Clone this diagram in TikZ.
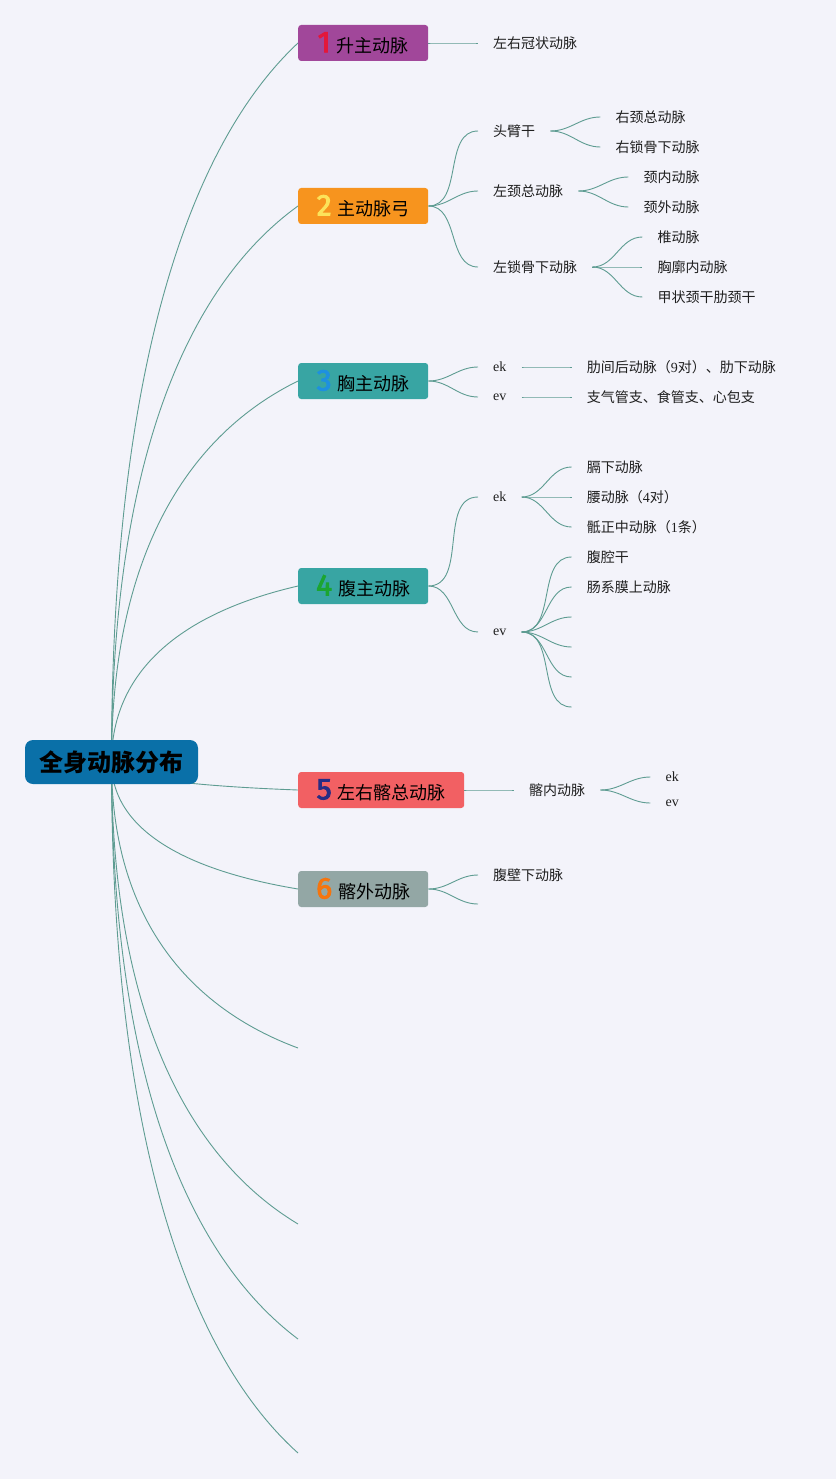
\documentclass[tikz,border=0pt]{standalone}
\usepackage{fontspec}
\setmainfont{Noto Sans CJK SC}
\newfontfamily\latfont{Liberation Serif}
\newfontfamily\numfont{Fira Sans}[FakeBold=3]
\usetikzlibrary{positioning}

\definecolor{bgc}{HTML}{F3F3FA}
\definecolor{linkc}{HTML}{5E9C92}
\definecolor{rootc}{HTML}{0A70A8}
\definecolor{c1}{HTML}{A1479A}
\definecolor{c1n}{HTML}{E3173B}
\definecolor{c2}{HTML}{F7941E}
\definecolor{c2n}{HTML}{FCE35A}
\definecolor{c3}{HTML}{38A5A3}
\definecolor{c3n}{HTML}{1E90E0}
\definecolor{c4n}{HTML}{1BA531}
\definecolor{c5}{HTML}{F26063}
\definecolor{c5n}{HTML}{282C84}
\definecolor{c6}{HTML}{93A7A5}
\definecolor{c6n}{HTML}{F5750E}

\newcommand{\tnum}[2]{{\numfont\fontsize{30}{30}\selectfont\color{#1}#2}\hspace{6pt}}
\newcommand{\lat}[1]{{\latfont #1}}

\pgfdeclarelayer{back}
\pgfsetlayers{back,main}

\tikzset{
  root/.style={rectangle, rounded corners=8pt, fill=rootc, minimum width=173pt,
    minimum height=44pt, inner sep=0pt, font=\bfseries\fontsize{24}{24}\selectfont},
  topic/.style={rectangle, rounded corners=3pt, minimum width=130pt, minimum height=36pt,
    inner sep=0pt, anchor=west, font=\fontsize{18}{18}\selectfont},
  sub/.style={rectangle, inner xsep=15pt, inner ysep=0pt, minimum height=26pt,
    anchor=west, text=black!88, font=\fontsize{14}{14}\selectfont},
  link/.style={draw=linkc, line width=0.9pt}
}

\begin{document}
\begin{tikzpicture}[x=1pt,y=-1pt]
\useasboundingbox (0,0) rectangle (836,1479);

% root and main topics
\node[root] (root) at (111.5,762) {全身动脉分布};
\node[topic, fill=c1] (t1) at (298,43) {\tnum{c1n}{1}升主动脉};
\node[topic, fill=c2] (t2) at (298,206) {\tnum{c2n}{2}主动脉弓};
\node[topic, fill=c3] (t3) at (298,381) {\tnum{c3n}{3}胸主动脉};
\node[topic, fill=c3] (t4) at (298,586) {\tnum{c4n}{4}腹主动脉};
\node[topic, fill=c5, minimum width=166pt] (t5) at (298,790) {\tnum{c5n}{5}左右髂总动脉};
\node[topic, fill=c6] (t6) at (298,889) {\tnum{c6n}{6}髂外动脉};
\coordinate (e1) at (298,1048);
\coordinate (e2) at (298,1224);
\coordinate (e3) at (298,1339);
\coordinate (e4) at (298,1453);

% 1
\node[sub] (gz) at (478,43) {左右冠状动脉};

% 2
\node[sub] (tbg) at (478,131) {头臂干};
\node[sub] (zjz) at (478,191) {左颈总动脉};
\node[sub] (zsg) at (478,267) {左锁骨下动脉};
\node[sub, right=50pt of tbg, yshift=14pt] (yjz) {右颈总动脉};
\node[sub, right=50pt of tbg, yshift=-16pt] (ysg) {右锁骨下动脉};
\node[sub, right=50pt of zjz, yshift=14pt] (jn) {颈内动脉};
\node[sub, right=50pt of zjz, yshift=-16pt] (jw) {颈外动脉};
\node[sub, right=50pt of zsg, yshift=30pt] (zhui) {椎动脉};
\node[sub, right=50pt of zsg] (xkn) {胸廓内动脉};
\node[sub, right=50pt of zsg, yshift=-30pt] (jzg) {甲状颈干肋颈干};

% 3
\node[sub] (ek1) at (478,367) {\lat{ek}};
\node[sub] (ev1) at (478,397) {\lat{ev}};
\node[sub, right=50pt of ek1] (lj) {肋间后动脉（\lat{9}对）、肋下动脉};
\node[sub, right=50pt of ev1] (zq) {支气管支、食管支、心包支};

% 4
\node[sub] (ek2) at (478,497) {\lat{ek}};
\node[sub] (ev2) at (478,632) {\lat{ev}};
\node[sub, right=50pt of ek2, yshift=30pt] (gx) {膈下动脉};
\node[sub, right=50pt of ek2] (yao) {腰动脉（\lat{4}对）};
\node[sub, right=50pt of ek2, yshift=-30pt] (dz) {骶正中动脉（\lat{1}条）};
\node[sub, right=50pt of ev2, yshift=75pt] (fq) {腹腔干};
\node[sub, right=50pt of ev2, yshift=45pt] (cx) {肠系膜上动脉};
\coordinate[right=50pt of ev2, yshift=15pt] (o1);
\coordinate[right=50pt of ev2, yshift=-15pt] (o2);
\coordinate[right=50pt of ev2, yshift=-45pt] (o3);
\coordinate[right=50pt of ev2, yshift=-75pt] (o4);

% 5
\node[sub] (qn) at (514,790) {髂内动脉};
\node[sub, right=50pt of qn, yshift=13pt] (ek3) {\lat{ek}};
\node[sub, right=50pt of qn, yshift=-13pt] (ev3) {\lat{ev}};

% 6
\node[sub] (fbx) at (478,875) {腹壁下动脉};
\coordinate (o5) at (478,904);

\begin{pgfonlayer}{back}
\fill[bgc] (0,0) rectangle (836,1479);
\foreach \t/\a/\b in {t1/-395/101, t2/-306/78, t3/-210/53, t4/-97/25, t5/15/-4,
    t6/70/-18, e1/157/-40, e2/254/-65, e3/317/-81, e4/380/-97}
  \draw[link] (root.center) .. controls +(0,\a) and +(-108,\b) .. (\t.180);
\foreach \a/\b in {t1/gz, t2/tbg, t2/zjz, t2/zsg, tbg/yjz, tbg/ysg, zjz/jn, zjz/jw,
    zsg/zhui, zsg/xkn, zsg/jzg, t3/ek1, t3/ev1, ek1/lj, ev1/zq, t4/ek2, t4/ev2,
    ek2/gx, ek2/yao, ek2/dz, ev2/fq, ev2/cx, ev2/o1, ev2/o2, ev2/o3, ev2/o4,
    t5/qn, qn/ek3, qn/ev3, t6/fbx, t6/o5}
  \draw[link] (\a) to[out=0,in=180] (\b);
\end{pgfonlayer}
\end{tikzpicture}
\end{document}
